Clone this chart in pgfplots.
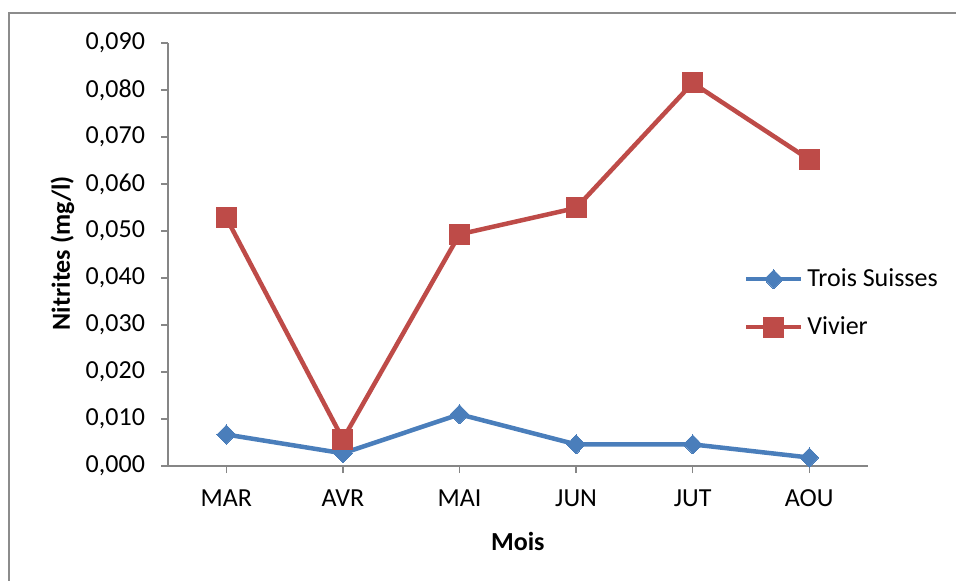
\documentclass[border=0pt]{standalone}
\usepackage{fontspec}
\setmainfont{Carlito}
\usepackage{pgfplots}
\pgfplotsset{compat=1.18}
\definecolor{tsblue}{HTML}{4A7EBB}
\definecolor{vivred}{HTML}{BE4B48}
\definecolor{axgray}{HTML}{868686}
\definecolor{framegray}{HTML}{8C8C8C}
\begin{document}
\begin{tikzpicture}
\useasboundingbox (0,0) rectangle (478pt,290pt);
\fill[white] (0,0) rectangle (478pt,290pt);
\clip (0,0) rectangle (478pt,290pt);
\draw[framegray, line width=1.3pt] (4.5pt,-20pt) -- (4.5pt,283.5pt) -- (500pt,283.5pt);
\begin{axis}[
  scale only axis,
  width=349.8pt, height=211.5pt,
  at={(84pt,57pt)}, anchor=south west,
  xmin=-0.5, xmax=5.5, ymin=0, ymax=0.09,
  xtick={0,1,2,3,4,5},
  xticklabels={MAR,AVR,MAI,JUN,JUT,AOU},
  ytick={0,0.01,0.02,0.03,0.04,0.05,0.06,0.07,0.08,0.09},
  axis x line*=bottom, axis y line*=left,
  axis line style={axgray, line width=0.75pt, -},
  tick style={axgray, line width=0.75pt},
  tick align=outside, major tick length=3.5pt,
  font=\fontsize{13}{15.6}\selectfont,
  /pgf/number format/assume math mode=true,
  yticklabel style={xshift=-4.5pt, /pgf/number format/.cd, fixed, fixed zerofill, precision=3, use comma},
  xticklabel style={yshift=-5pt},
  scaled y ticks=false,
  xlabel={\textbf{Mois}},
  ylabel={\textbf{Nitrites (mg/l)}},
  xlabel style={at={(axis description cs:0.5,-0.178)}, anchor=center},
  ylabel style={at={(axis description cs:-0.151,0.5035)}, anchor=center, rotate=0},
  legend style={at={(axis description cs:0.8226,0.385)}, anchor=west, draw=none, fill=none,
    inner sep=0pt, row sep=9.5pt, font=\fontsize{13}{15.6}\selectfont,
    /tikz/every even column/.append style={column sep=0pt}},
  legend cell align=left,
  legend image code/.code={\draw[mark repeat=2,mark phase=2] plot coordinates {(0pt,0pt)(13.75pt,0pt)(27.5pt,0pt)};},
  clip=false,
]
\addplot[tsblue, line width=2.25pt, mark=diamond*, mark size=4.8pt, mark options={solid, fill=tsblue, line width=0pt, xscale=1.3}]
  coordinates {(0,0.0067) (1,0.0027) (2,0.0110) (3,0.0046) (4,0.0046) (5,0.0018)};
\addlegendentry{Trois Suisses}
\addplot[vivred, line width=2.25pt, mark=square*, mark size=5pt, mark options={solid, fill=vivred, line width=0pt}]
  coordinates {(0,0.0528) (1,0.0057) (2,0.0493) (3,0.0549) (4,0.0815) (5,0.0652)};
\addlegendentry{Vivier}
\end{axis}
\end{tikzpicture}
\end{document}
